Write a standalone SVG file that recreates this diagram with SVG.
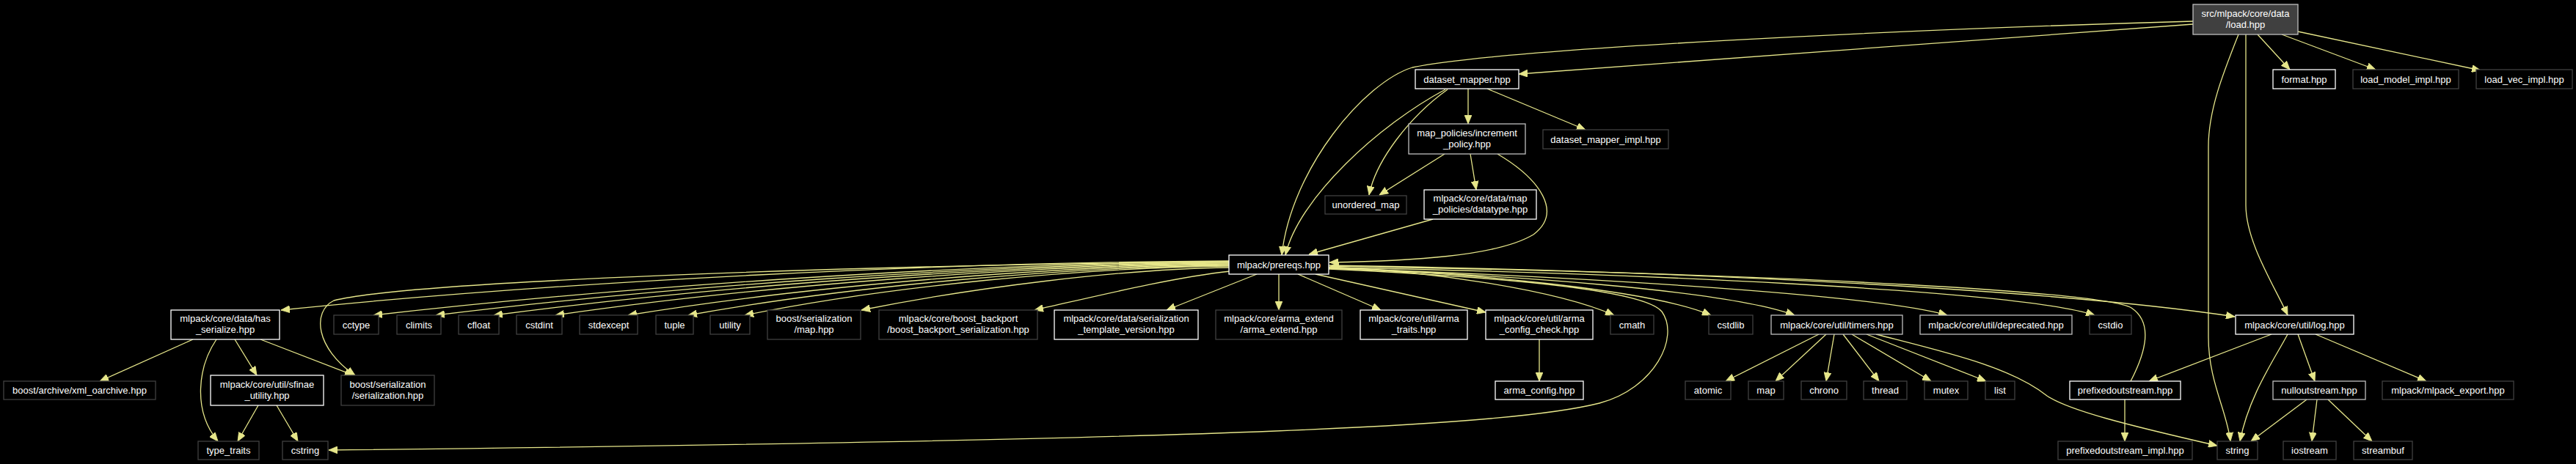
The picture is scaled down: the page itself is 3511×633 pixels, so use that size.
<svg xmlns="http://www.w3.org/2000/svg" width="3511" height="633" viewBox="0 0 3511 633">
<style>
.bg{fill:#000}
rect.n{fill:#000;stroke:#ffffff;stroke-width:1.3}
rect.g{fill:#000;stroke:#bfbfbf;stroke-width:1.3}
rect.u{fill:#000;stroke:#404040;stroke-width:1.3}
rect.r{fill:#404040;stroke:#bfbfbf;stroke-width:1.3}
text{font-family:"Liberation Sans",Arial,sans-serif;font-size:13px;fill:#ffffff;text-anchor:middle}
#edges path{fill:none;stroke:#e6e68a;stroke-width:1.3;marker-end:url(#ah)}
</style>
<defs>
<marker id="ah" viewBox="0 0 12 10" markerWidth="12" markerHeight="10" refX="12" refY="5" orient="auto" markerUnits="userSpaceOnUse">
<path d="M0,0 L12,5 L0,10 z" fill="#e6e68a" stroke="#e6e68a" stroke-width="0.8"/>
</marker>
</defs>
<rect class="bg" x="0" y="0" width="3511" height="633"/>
<g id="edges">
<path d="M2989,29 C2600,40 2050,66 1925,92 C1860,112 1760,230 1747,348"/>
<path d="M2989,33 L2070,101"/>
<path d="M3077,47 L3121,95"/>
<path d="M3110,47 L3238,95"/>
<path d="M3132,43 L3381,96"/>
<path d="M3051,47 C3030,100 3010,150 3010,200 L3010,460 C3010,520 3035,560 3040,602"/>
<path d="M3061,47 L3061,280 C3061,330 3100,390 3118,430"/>
<path d="M2001,121 L2001,169"/>
<path d="M2027,121 L2161,177"/>
<path d="M1973,122 C1920,160 1875,220 1866,266"/>
<path d="M1970,122 C1880,170 1770,270 1752,348"/>
<path d="M1969,210 L1880,266"/>
<path d="M2004,210 L2012,259"/>
<path d="M2041,210 C2100,245 2130,290 2090,320 C2040,350 1920,356 1812,358"/>
<path d="M1953,299 L1784,347"/>
<path d="M1675,356 C1287,358 771,383 383,423"/>
<path d="M1675,357 C1150,362 560,384 455,410 C425,425 430,475 484,512"/>
<path d="M1675,357 C1325,359 859,390 509,430"/>
<path d="M1675,358 C1351,360 918,390 594,430"/>
<path d="M1675,359 C1374,361 974,390 673,430"/>
<path d="M1675,360 C1400,362 1032,390 757,430"/>
<path d="M1675,361 C1429,363 1102,390 856,430"/>
<path d="M1675,362 C1454,364 1159,390 938,430"/>
<path d="M1675,363 C1477,365 1213,390 1015,430"/>
<path d="M1675,365 C1525,367 1324,393 1174,423"/>
<path d="M1677,370 C1600,378 1490,405 1410,423"/>
<path d="M1713,374 L1590,423"/>
<path d="M1743,374 L1743,423"/>
<path d="M1769,374 L1882,423"/>
<path d="M1793,374 L2025,426"/>
<path d="M1811,364 C1950,370 2120,395 2200,430"/>
<path d="M1811,365 C2000,372 2250,395 2332,430"/>
<path d="M1811,366 C2050,375 2350,395 2446,430"/>
<path d="M1811,366 C2100,375 2550,400 2654,430"/>
<path d="M1811,365 C2200,372 2750,395 2855,430"/>
<path d="M1811,362 C2300,370 2800,395 3046,432"/>
<path d="M1811,367 C2050,378 2240,395 2265,425 C2290,460 2255,530 2180,550 C2060,580 1700,600 448,614"/>
<path d="M2904,520 C2925,480 2935,440 2905,420 C2870,400 2500,375 1813,363"/>
<path d="M2479,456 L2352,520"/>
<path d="M2489,456 L2420,520"/>
<path d="M2500,456 L2489,520"/>
<path d="M2512,456 L2561,520"/>
<path d="M2524,456 L2632,520"/>
<path d="M2544,456 L2707,520"/>
<path d="M2557,456 C2650,480 2740,500 2790,540 C2820,560 2900,580 3022,608"/>
<path d="M2098,463 L2098,520"/>
<path d="M263,463 L136,520"/>
<path d="M295,463 C270,500 262,560 297,602"/>
<path d="M320,463 L350,512"/>
<path d="M355,463 L482,512"/>
<path d="M352,553 L324,602"/>
<path d="M377,553 L406,602"/>
<path d="M3096,456 L2929,520"/>
<path d="M3118,456 C3100,490 3065,540 3053,602"/>
<path d="M3132,456 L3155,520"/>
<path d="M3156,456 L3307,520"/>
<path d="M2896,545 L2896,602"/>
<path d="M3144,545 L3068,602"/>
<path d="M3158,545 L3151,602"/>
<path d="M3173,545 L3233,602"/>
</g>
<g id="n_load"><rect class="r" x="2989" y="6" width="143" height="41"/><text x="3060.5" y="23">src/mlpack/core/data</text><text x="3060.5" y="38">/load.hpp</text></g>
<g id="n_dataset_mapper"><rect class="n" x="1929" y="95" width="141" height="26"/><text x="1999.5" y="112.5">dataset_mapper.hpp</text></g>
<g id="n_format"><rect class="n" x="3098" y="95" width="85" height="26"/><text x="3140.5" y="112.5">format.hpp</text></g>
<g id="n_load_model_impl"><rect class="u" x="3207" y="95" width="144" height="26"/><text x="3279" y="112.5">load_model_impl.hpp</text></g>
<g id="n_load_vec_impl"><rect class="u" x="3375" y="95" width="131" height="26"/><text x="3440.5" y="112.5">load_vec_impl.hpp</text></g>
<g id="n_increment_policy"><rect class="g" x="1920" y="169" width="159" height="41"/><text x="1999.5" y="186">map_policies/increment</text><text x="1999.5" y="201">_policy.hpp</text></g>
<g id="n_dataset_mapper_impl"><rect class="u" x="2103" y="177" width="171" height="26"/><text x="2188.5" y="194.5">dataset_mapper_impl.hpp</text></g>
<g id="n_unordered_map"><rect class="u" x="1806" y="267" width="111" height="25"/><text x="1861.5" y="284">unordered_map</text></g>
<g id="n_datatype"><rect class="n" x="1941" y="259" width="153" height="40"/><text x="2017.5" y="275">mlpack/core/data/map</text><text x="2017.5" y="290">_policies/datatype.hpp</text></g>
<g id="n_prereqs"><rect class="n" x="1675" y="348" width="136" height="26"/><text x="1743" y="365.5">mlpack/prereqs.hpp</text></g>
<g id="n_has_serialize"><rect class="n" x="233" y="423" width="148" height="40"/><text x="307" y="439">mlpack/core/data/has</text><text x="307" y="454">_serialize.hpp</text></g>
<g id="n_cctype"><rect class="u" x="455" y="430" width="61" height="26"/><text x="485.5" y="447.5">cctype</text></g>
<g id="n_climits"><rect class="u" x="541" y="430" width="60" height="26"/><text x="571" y="447.5">climits</text></g>
<g id="n_cfloat"><rect class="u" x="625" y="430" width="55" height="26"/><text x="652.5" y="447.5">cfloat</text></g>
<g id="n_cstdint"><rect class="u" x="704" y="430" width="62" height="26"/><text x="735" y="447.5">cstdint</text></g>
<g id="n_stdexcept"><rect class="u" x="790" y="430" width="79" height="26"/><text x="829.5" y="447.5">stdexcept</text></g>
<g id="n_tuple"><rect class="u" x="894" y="430" width="51" height="26"/><text x="919.5" y="447.5">tuple</text></g>
<g id="n_utility"><rect class="u" x="968" y="430" width="54" height="26"/><text x="995" y="447.5">utility</text></g>
<g id="n_ser_map"><rect class="u" x="1046" y="423" width="127" height="40"/><text x="1109.5" y="439">boost/serialization</text><text x="1109.5" y="454">/map.hpp</text></g>
<g id="n_backport"><rect class="u" x="1198" y="423" width="216" height="40"/><text x="1306" y="439">mlpack/core/boost_backport</text><text x="1306" y="454">/boost_backport_serialization.hpp</text></g>
<g id="n_template_version"><rect class="n" x="1437" y="423" width="196" height="40"/><text x="1535" y="439">mlpack/core/data/serialization</text><text x="1535" y="454">_template_version.hpp</text></g>
<g id="n_arma_extend"><rect class="u" x="1657" y="423" width="172" height="40"/><text x="1743" y="439">mlpack/core/arma_extend</text><text x="1743" y="454">/arma_extend.hpp</text></g>
<g id="n_arma_traits"><rect class="n" x="1854" y="423" width="146" height="40"/><text x="1927" y="439">mlpack/core/util/arma</text><text x="1927" y="454">_traits.hpp</text></g>
<g id="n_arma_config_check"><rect class="n" x="2025" y="423" width="146" height="40"/><text x="2098" y="439">mlpack/core/util/arma</text><text x="2098" y="454">_config_check.hpp</text></g>
<g id="n_cmath"><rect class="u" x="2195" y="430" width="59" height="26"/><text x="2224.5" y="447.5">cmath</text></g>
<g id="n_cstdlib"><rect class="u" x="2329" y="430" width="60" height="26"/><text x="2359" y="447.5">cstdlib</text></g>
<g id="n_timers"><rect class="g" x="2414" y="430" width="179" height="26"/><text x="2503.5" y="447.5">mlpack/core/util/timers.hpp</text></g>
<g id="n_deprecated"><rect class="g" x="2617" y="430" width="207" height="26"/><text x="2720.5" y="447.5">mlpack/core/util/deprecated.hpp</text></g>
<g id="n_cstdio"><rect class="u" x="2848" y="430" width="57" height="26"/><text x="2876.5" y="447.5">cstdio</text></g>
<g id="n_log"><rect class="n" x="3047" y="430" width="161" height="26"/><text x="3127.5" y="447.5">mlpack/core/util/log.hpp</text></g>
<g id="n_xml_oarchive"><rect class="u" x="5" y="520" width="207" height="25"/><text x="108.5" y="536.5">boost/archive/xml_oarchive.hpp</text></g>
<g id="n_sfinae"><rect class="n" x="287" y="512" width="154" height="41"/><text x="364" y="529">mlpack/core/util/sfinae</text><text x="364" y="544">_utility.hpp</text></g>
<g id="n_serialization"><rect class="u" x="465" y="512" width="127" height="41"/><text x="528.5" y="529">boost/serialization</text><text x="528.5" y="544">/serialization.hpp</text></g>
<g id="n_arma_config"><rect class="n" x="2038" y="520" width="120" height="25"/><text x="2098" y="536.5">arma_config.hpp</text></g>
<g id="n_atomic"><rect class="u" x="2297" y="520" width="62" height="25"/><text x="2328" y="536.5">atomic</text></g>
<g id="n_map"><rect class="u" x="2383" y="520" width="48" height="25"/><text x="2407" y="536.5">map</text></g>
<g id="n_chrono"><rect class="u" x="2455" y="520" width="62" height="25"/><text x="2486" y="536.5">chrono</text></g>
<g id="n_thread"><rect class="u" x="2540" y="520" width="59" height="25"/><text x="2569.5" y="536.5">thread</text></g>
<g id="n_mutex"><rect class="u" x="2623" y="520" width="59" height="25"/><text x="2652.5" y="536.5">mutex</text></g>
<g id="n_list"><rect class="u" x="2706" y="520" width="40" height="25"/><text x="2726" y="536.5">list</text></g>
<g id="n_prefixedoutstream"><rect class="n" x="2821" y="520" width="151" height="25"/><text x="2896.5" y="536.5">prefixedoutstream.hpp</text></g>
<g id="n_nulloutstream"><rect class="g" x="3098" y="520" width="126" height="25"/><text x="3161" y="536.5">nulloutstream.hpp</text></g>
<g id="n_mlpack_export"><rect class="u" x="3247" y="520" width="179" height="25"/><text x="3336.5" y="536.5">mlpack/mlpack_export.hpp</text></g>
<g id="n_type_traits"><rect class="u" x="270" y="602" width="83" height="25"/><text x="311.5" y="618.5">type_traits</text></g>
<g id="n_cstring"><rect class="u" x="385" y="602" width="62" height="25"/><text x="416" y="618.5">cstring</text></g>
<g id="n_prefixedoutstream_impl"><rect class="u" x="2805" y="602" width="183" height="25"/><text x="2896.5" y="618.5">prefixedoutstream_impl.hpp</text></g>
<g id="n_string"><rect class="u" x="3022" y="602" width="55" height="25"/><text x="3049.5" y="618.5">string</text></g>
<g id="n_iostream"><rect class="u" x="3112" y="602" width="72" height="25"/><text x="3148" y="618.5">iostream</text></g>
<g id="n_streambuf"><rect class="u" x="3208" y="602" width="80" height="25"/><text x="3248" y="618.5">streambuf</text></g>
</svg>
